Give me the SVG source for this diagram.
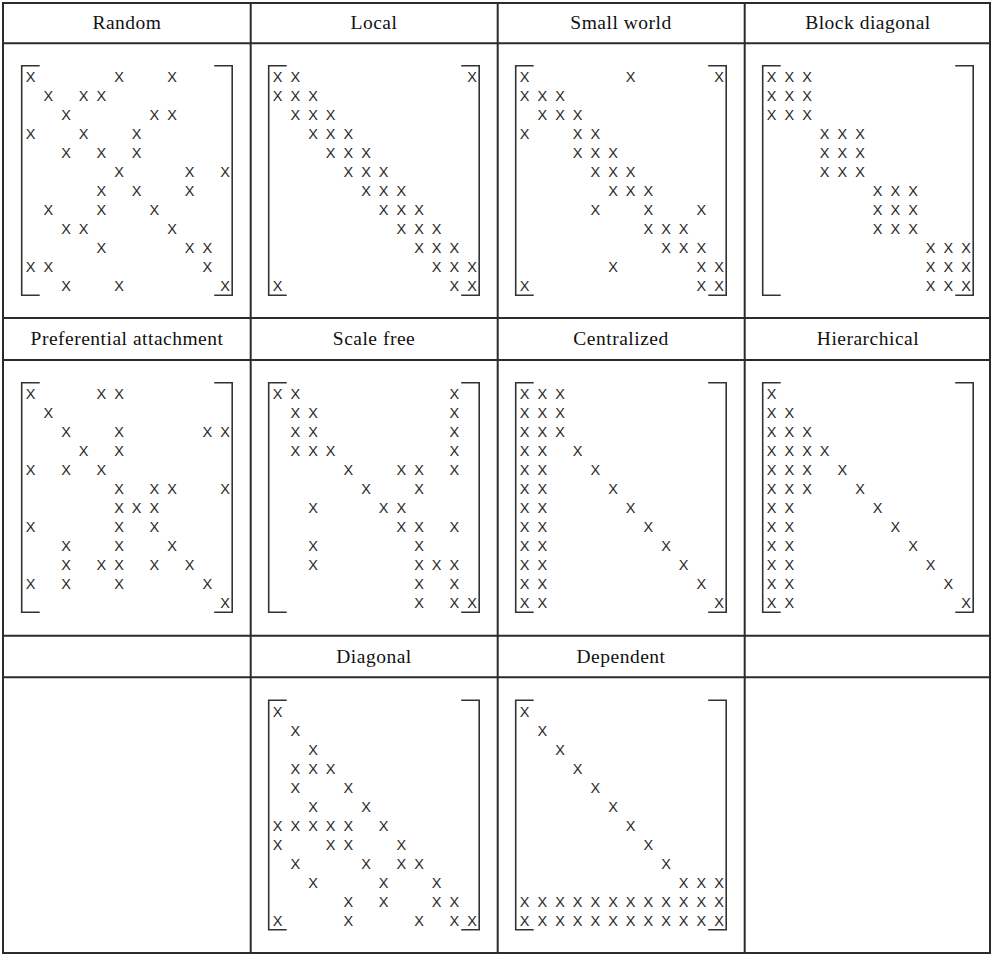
<svg xmlns="http://www.w3.org/2000/svg" width="991" height="955" viewBox="0 0 991 955">
<style>
.hd{font-family:"Liberation Serif","Times New Roman",serif;font-size:19.5px;letter-spacing:0.5px;fill:#111;text-anchor:middle}
.x{font-family:"Liberation Sans",Arial,sans-serif;font-size:14.5px;fill:#2a2a2a;text-anchor:middle}
.br{fill:none;stroke:#333;stroke-width:1.6}
.grid{stroke:#2b2b2b;stroke-width:2;fill:none}
</style>
<defs>
<path id="brk" class="br" d="M18,0 H0 V229.5 H18 M192.5,0 H210.5 V229.5 H192.5"/>
</defs>
<rect x="0" y="0" width="991" height="955" fill="#fff"/>
<g id="table">
<rect class="grid" x="3" y="3" width="987" height="950" stroke-width="2.6"/>
<path class="grid" d="M250.7,3 V953 M497.7,3 V953 M744.7,3 V953 M3,43.3 H990 M3,318 H990 M3,360 H990 M3,635.7 H990 M3,677.3 H990"/>
</g>
<g id="headers">
<text class="hd" x="127" y="29.4">Random</text>
<text class="hd" x="374" y="29.4">Local</text>
<text class="hd" x="621" y="29.4">Small world</text>
<text class="hd" x="868" y="29.4">Block diagonal</text>
<text class="hd" x="127" y="345.3">Preferential attachment</text>
<text class="hd" x="374" y="345.3">Scale free</text>
<text class="hd" x="621" y="345.3">Centralized</text>
<text class="hd" x="868" y="345.3">Hierarchical</text>
<text class="hd" x="374" y="662.8">Diagonal</text>
<text class="hd" x="621" y="662.8">Dependent</text>
</g>
<g id="m-random" transform="translate(21.7,65.7)">
<use href="#brk"/>
<text class="x" x="9 97.3 150.3" y="16.8">XXX</text>
<text class="x" x="26.7 62 79.6" y="35.8">XXX</text>
<text class="x" x="44.3 132.6 150.3" y="54.8">XXX</text>
<text class="x" x="9 62 115" y="73.8">XXX</text>
<text class="x" x="44.3 79.6 115" y="92.8">XXX</text>
<text class="x" x="97.3 167.9 203.3" y="111.8">XXX</text>
<text class="x" x="79.6 115 167.9" y="130.8">XXX</text>
<text class="x" x="26.7 79.6 132.6" y="149.8">XXX</text>
<text class="x" x="44.3 62 150.3" y="168.8">XXX</text>
<text class="x" x="79.6 167.9 185.6" y="187.8">XXX</text>
<text class="x" x="9 26.7 185.6" y="206.8">XXX</text>
<text class="x" x="44.3 97.3 203.3" y="225.8">XXX</text>
</g>
<g id="m-local" transform="translate(268.7,65.7)">
<use href="#brk"/>
<text class="x" x="9 26.7 203.3" y="16.8">XXX</text>
<text class="x" x="9 26.7 44.3" y="35.8">XXX</text>
<text class="x" x="26.7 44.3 62" y="54.8">XXX</text>
<text class="x" x="44.3 62 79.6" y="73.8">XXX</text>
<text class="x" x="62 79.6 97.3" y="92.8">XXX</text>
<text class="x" x="79.6 97.3 115" y="111.8">XXX</text>
<text class="x" x="97.3 115 132.6" y="130.8">XXX</text>
<text class="x" x="115 132.6 150.3" y="149.8">XXX</text>
<text class="x" x="132.6 150.3 167.9" y="168.8">XXX</text>
<text class="x" x="150.3 167.9 185.6" y="187.8">XXX</text>
<text class="x" x="167.9 185.6 203.3" y="206.8">XXX</text>
<text class="x" x="9 185.6 203.3" y="225.8">XXX</text>
</g>
<g id="m-smallworld" transform="translate(515.7,65.7)">
<use href="#brk"/>
<text class="x" x="9 115 203.3" y="16.8">XXX</text>
<text class="x" x="9 26.7 44.3" y="35.8">XXX</text>
<text class="x" x="26.7 44.3 62" y="54.8">XXX</text>
<text class="x" x="9 62 79.6" y="73.8">XXX</text>
<text class="x" x="62 79.6 97.3" y="92.8">XXX</text>
<text class="x" x="79.6 97.3 115" y="111.8">XXX</text>
<text class="x" x="97.3 115 132.6" y="130.8">XXX</text>
<text class="x" x="79.6 132.6 185.6" y="149.8">XXX</text>
<text class="x" x="132.6 150.3 167.9" y="168.8">XXX</text>
<text class="x" x="150.3 167.9 185.6" y="187.8">XXX</text>
<text class="x" x="97.3 185.6 203.3" y="206.8">XXX</text>
<text class="x" x="9 185.6 203.3" y="225.8">XXX</text>
</g>
<g id="m-blockdiagonal" transform="translate(762.7,65.7)">
<use href="#brk"/>
<text class="x" x="9 26.7 44.3" y="16.8">XXX</text>
<text class="x" x="9 26.7 44.3" y="35.8">XXX</text>
<text class="x" x="9 26.7 44.3" y="54.8">XXX</text>
<text class="x" x="62 79.6 97.3" y="73.8">XXX</text>
<text class="x" x="62 79.6 97.3" y="92.8">XXX</text>
<text class="x" x="62 79.6 97.3" y="111.8">XXX</text>
<text class="x" x="115 132.6 150.3" y="130.8">XXX</text>
<text class="x" x="115 132.6 150.3" y="149.8">XXX</text>
<text class="x" x="115 132.6 150.3" y="168.8">XXX</text>
<text class="x" x="167.9 185.6 203.3" y="187.8">XXX</text>
<text class="x" x="167.9 185.6 203.3" y="206.8">XXX</text>
<text class="x" x="167.9 185.6 203.3" y="225.8">XXX</text>
</g>
<g id="m-preferential" transform="translate(21.7,382.7)">
<use href="#brk"/>
<text class="x" x="9 79.6 97.3" y="16.8">XXX</text>
<text class="x" x="26.7" y="35.8">X</text>
<text class="x" x="44.3 97.3 185.6 203.3" y="54.8">XXXX</text>
<text class="x" x="62 97.3" y="73.8">XX</text>
<text class="x" x="9 44.3 79.6" y="92.8">XXX</text>
<text class="x" x="97.3 132.6 150.3 203.3" y="111.8">XXXX</text>
<text class="x" x="97.3 115 132.6" y="130.8">XXX</text>
<text class="x" x="9 97.3 132.6" y="149.8">XXX</text>
<text class="x" x="44.3 97.3 150.3" y="168.8">XXX</text>
<text class="x" x="44.3 79.6 97.3 132.6 167.9" y="187.8">XXXXX</text>
<text class="x" x="9 44.3 97.3 185.6" y="206.8">XXXX</text>
<text class="x" x="203.3" y="225.8">X</text>
</g>
<g id="m-scalefree" transform="translate(268.7,382.7)">
<use href="#brk"/>
<text class="x" x="9 26.7 185.6" y="16.8">XXX</text>
<text class="x" x="26.7 44.3 185.6" y="35.8">XXX</text>
<text class="x" x="26.7 44.3 185.6" y="54.8">XXX</text>
<text class="x" x="26.7 44.3 62 185.6" y="73.8">XXXX</text>
<text class="x" x="79.6 132.6 150.3 185.6" y="92.8">XXXX</text>
<text class="x" x="97.3 150.3" y="111.8">XX</text>
<text class="x" x="44.3 115 132.6" y="130.8">XXX</text>
<text class="x" x="132.6 150.3 185.6" y="149.8">XXX</text>
<text class="x" x="44.3 150.3" y="168.8">XX</text>
<text class="x" x="44.3 150.3 167.9 185.6" y="187.8">XXXX</text>
<text class="x" x="150.3 185.6" y="206.8">XX</text>
<text class="x" x="150.3 185.6 203.3" y="225.8">XXX</text>
</g>
<g id="m-centralized" transform="translate(515.7,382.7)">
<use href="#brk"/>
<text class="x" x="9 26.7 44.3" y="16.8">XXX</text>
<text class="x" x="9 26.7 44.3" y="35.8">XXX</text>
<text class="x" x="9 26.7 44.3" y="54.8">XXX</text>
<text class="x" x="9 26.7 62" y="73.8">XXX</text>
<text class="x" x="9 26.7 79.6" y="92.8">XXX</text>
<text class="x" x="9 26.7 97.3" y="111.8">XXX</text>
<text class="x" x="9 26.7 115" y="130.8">XXX</text>
<text class="x" x="9 26.7 132.6" y="149.8">XXX</text>
<text class="x" x="9 26.7 150.3" y="168.8">XXX</text>
<text class="x" x="9 26.7 167.9" y="187.8">XXX</text>
<text class="x" x="9 26.7 185.6" y="206.8">XXX</text>
<text class="x" x="9 26.7 203.3" y="225.8">XXX</text>
</g>
<g id="m-hierarchical" transform="translate(762.7,382.7)">
<use href="#brk"/>
<text class="x" x="9" y="16.8">X</text>
<text class="x" x="9 26.7" y="35.8">XX</text>
<text class="x" x="9 26.7 44.3" y="54.8">XXX</text>
<text class="x" x="9 26.7 44.3 62" y="73.8">XXXX</text>
<text class="x" x="9 26.7 44.3 79.6" y="92.8">XXXX</text>
<text class="x" x="9 26.7 44.3 97.3" y="111.8">XXXX</text>
<text class="x" x="9 26.7 115" y="130.8">XXX</text>
<text class="x" x="9 26.7 132.6" y="149.8">XXX</text>
<text class="x" x="9 26.7 150.3" y="168.8">XXX</text>
<text class="x" x="9 26.7 167.9" y="187.8">XXX</text>
<text class="x" x="9 26.7 185.6" y="206.8">XXX</text>
<text class="x" x="9 26.7 203.3" y="225.8">XXX</text>
</g>
<g id="m-diagonal" transform="translate(268.7,700.3)">
<use href="#brk"/>
<text class="x" x="9" y="16.8">X</text>
<text class="x" x="26.7" y="35.8">X</text>
<text class="x" x="44.3" y="54.8">X</text>
<text class="x" x="26.7 44.3 62" y="73.8">XXX</text>
<text class="x" x="26.7 79.6" y="92.8">XX</text>
<text class="x" x="44.3 97.3" y="111.8">XX</text>
<text class="x" x="9 26.7 44.3 62 79.6 115" y="130.8">XXXXXX</text>
<text class="x" x="9 62 79.6 132.6" y="149.8">XXXX</text>
<text class="x" x="26.7 97.3 132.6 150.3" y="168.8">XXXX</text>
<text class="x" x="44.3 115 167.9" y="187.8">XXX</text>
<text class="x" x="79.6 115 167.9 185.6" y="206.8">XXXX</text>
<text class="x" x="9 79.6 150.3 185.6 203.3" y="225.8">XXXXX</text>
</g>
<g id="m-dependent" transform="translate(515.7,700.3)">
<use href="#brk"/>
<text class="x" x="9" y="16.8">X</text>
<text class="x" x="26.7" y="35.8">X</text>
<text class="x" x="44.3" y="54.8">X</text>
<text class="x" x="62" y="73.8">X</text>
<text class="x" x="79.6" y="92.8">X</text>
<text class="x" x="97.3" y="111.8">X</text>
<text class="x" x="115" y="130.8">X</text>
<text class="x" x="132.6" y="149.8">X</text>
<text class="x" x="150.3" y="168.8">X</text>
<text class="x" x="167.9 185.6 203.3" y="187.8">XXX</text>
<text class="x" x="9 26.7 44.3 62 79.6 97.3 115 132.6 150.3 167.9 185.6 203.3" y="206.8">XXXXXXXXXXXX</text>
<text class="x" x="9 26.7 44.3 62 79.6 97.3 115 132.6 150.3 167.9 185.6 203.3" y="225.8">XXXXXXXXXXXX</text>
</g>
</svg>
